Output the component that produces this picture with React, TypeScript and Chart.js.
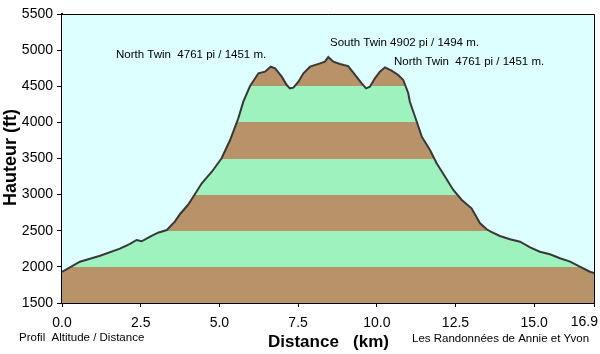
import React, { useEffect, useRef } from "react";
import { Chart, registerables } from "chart.js";

Chart.register(...registerables);

const DISTANCE_KM = [
  0.0, 0.57, 1.21, 1.84, 2.16, 2.37, 2.53, 2.8, 3.05, 3.33, 3.59, 3.75, 4.0, 4.17, 4.44, 4.76,
  5.07, 5.34, 5.6, 5.76, 5.97, 6.24, 6.45, 6.63, 6.77, 6.98, 7.14, 7.24, 7.35, 7.51, 7.67, 7.88,
  8.2, 8.35, 8.46, 8.62, 8.83, 9.09, 9.31, 9.52, 9.66, 9.78, 9.94, 10.1, 10.26, 10.47, 10.68,
  10.84, 11.0, 11.05, 11.27, 11.43, 11.69, 11.9, 12.17, 12.43, 12.7, 13.01, 13.28, 13.49, 13.62,
  13.91, 14.23, 14.55, 14.87, 15.18, 15.5, 15.82, 16.14, 16.45, 16.77, 16.9,
];
const ALTITUDE_FT = [
  1930, 2072, 2155, 2252, 2317, 2372, 2354, 2418, 2473, 2510, 2630, 2732, 2856, 2971, 3157, 3317,
  3503, 3756, 4056, 4286, 4500, 4679, 4702, 4770, 4748, 4633, 4517, 4471, 4480, 4563, 4679, 4771,
  4817, 4840, 4905, 4840, 4808, 4780, 4656, 4541, 4471, 4494, 4610, 4702, 4762, 4716, 4656,
  4587, 4403, 4286, 4009, 3802, 3618, 3434, 3248, 3064, 2926, 2811, 2603, 2520, 2487,
  2427, 2382, 2348, 2271, 2210, 2174, 2119, 2072, 2003, 1933, 1915,
];
const X_TICKS = [0, 2.5, 5, 7.5, 10, 12.5, 15, 16.9];
const Y_MIN = 1500;
const Y_MAX = 5500;
const Y_STEP = 500;
const BAND_EDGES = [1500, 2000, 2500, 3000, 3500, 4000, 4500, 5500];
const BAND_COLORS = ["#b89268", "#9ef2be", "#b89268", "#9ef2be", "#b89268", "#9ef2be", "#b89268"];
const PEAK_LABELS = [
  "North Twin  4761 pi / 1451 m.",
  "South Twin 4902 pi / 1494 m.",
  "North Twin  4761 pi / 1451 m.",
];
const Y_TITLE = "Hauteur (ft)";
const X_TITLE = "Distance   (km)";
const FOOT_LEFT = "Profil  Altitude / Distance";
const FOOT_RIGHT = "Les Randonnées de Annie et Yvon";

const FONT = "'Liberation Sans', Arial, sans-serif";
const BG = "#ddffff";
const TICK_FONT_SIZE = 14;

const fmtX = (v: number) => Number(v).toFixed(1);

const decorPlugin = {
  id: "decor",
  beforeDatasetsDraw(chart: any) {
    const { ctx, chartArea: a } = chart;
    ctx.save();
    ctx.fillStyle = BG;
    ctx.fillRect(a.left, a.top, a.right - a.left, a.bottom - a.top);
    ctx.restore();
  },
  afterDraw(chart: any) {
    const { ctx, chartArea: a } = chart;
    ctx.save();
    ctx.strokeStyle = "#000";
    ctx.lineWidth = 1;
    ctx.beginPath();
    ctx.moveTo(a.left, a.top + 0.5);
    ctx.lineTo(a.right + 0.5, a.top + 0.5);
    ctx.lineTo(a.right + 0.5, a.bottom);
    ctx.stroke();

    ctx.fillStyle = "#000";
    ctx.textBaseline = "middle";

    // last x tick label, kept inside the canvas
    const last = X_TICKS[X_TICKS.length - 1];
    ctx.textAlign = "right";
    ctx.font = `${TICK_FONT_SIZE}px ${FONT}`;
    ctx.fillText(fmtX(last), 598, 322);

    ctx.textAlign = "left";
    ctx.font = `11.5px ${FONT}`;
    ctx.fillText(PEAK_LABELS[0], 116, 55);
    ctx.fillText(PEAK_LABELS[1], 330, 43);
    ctx.fillText(PEAK_LABELS[2], 394, 62);

    ctx.font = `11.5px ${FONT}`;
    ctx.fillText(FOOT_LEFT, 19, 338);
    ctx.fillText(FOOT_RIGHT, 412, 339);

    ctx.font = `bold 17px ${FONT}`;
    ctx.fillText(X_TITLE, 268, 342);

    ctx.save();
    ctx.translate(11, 157.5);
    ctx.rotate(-Math.PI / 2);
    ctx.textAlign = "center";
    ctx.font = `bold 18px ${FONT}`;
    ctx.fillText(Y_TITLE, 0, 0);
    ctx.restore();
    ctx.restore();
  },
};

function bandFill(c: any) {
  const chart = c.chart;
  const area = chart.chartArea;
  const ys = chart.scales && chart.scales.y;
  if (!area || !ys) return BAND_COLORS[0];
  const p0 = ys.getPixelForValue(Y_MIN);
  const p1 = ys.getPixelForValue(Y_MAX);
  const g = chart.ctx.createLinearGradient(0, p0, 0, p1);
  const span = Y_MAX - Y_MIN;
  for (let i = 0; i < BAND_COLORS.length; i++) {
    const t0 = (BAND_EDGES[i] - Y_MIN) / span;
    const t1 = (BAND_EDGES[i + 1] - Y_MIN) / span;
    g.addColorStop(Math.min(1, Math.max(0, t0)), BAND_COLORS[i]);
    g.addColorStop(Math.min(1, Math.max(0, t1)), BAND_COLORS[i]);
  }
  return g;
}

export default function App() {
  const ref = useRef<HTMLCanvasElement | null>(null);
  useEffect(() => {
    if (!ref.current) return;
    const points = DISTANCE_KM.map((d, i) => ({ x: d, y: ALTITUDE_FT[i] }));
    const lastTick = X_TICKS[X_TICKS.length - 1];
    const chart = new Chart(ref.current, {
      type: "line",
      data: {
        datasets: [
          {
            data: points,
            borderColor: "#383838",
            borderWidth: 2,
            pointRadius: 0,
            tension: 0,
            fill: "start",
            backgroundColor: bandFill,
          },
        ],
      },
      options: {
        responsive: false,
        animation: false,
        events: [],
        layout: { padding: { left: 0, top: 14, right: 6, bottom: 0 } },
        plugins: { legend: { display: false }, tooltip: { enabled: false }, title: { display: false } },
        scales: {
          x: {
            type: "linear",
            min: 0,
            max: lastTick,
            afterFit: (s: any) => {
              s.height = 51;
              s.paddingLeft = 0;
              s.paddingRight = 0;
            },
            afterBuildTicks: (s: any) => {
              s.ticks = X_TICKS.map((v) => ({ value: v }));
            },
            ticks: {
              color: "#000",
              font: { family: FONT, size: TICK_FONT_SIZE },
              padding: 8,
              maxRotation: 0,
              autoSkip: false,
              callback: (v: any) => (Number(v) === lastTick ? "" : fmtX(v)),
            },
            grid: { drawOnChartArea: false, drawTicks: true, tickLength: 4, color: "#000" },
            border: { display: true, color: "#000", width: 2 },
          },
          y: {
            min: Y_MIN,
            max: Y_MAX,
            afterFit: (s: any) => {
              s.width = 62;
              s.paddingTop = 0;
              s.paddingBottom = 0;
            },
            ticks: {
              stepSize: Y_STEP,
              color: "#000",
              font: { family: FONT, size: TICK_FONT_SIZE },
              padding: 4,
              callback: (v: any) => String(v),
            },
            grid: { drawOnChartArea: false, drawTicks: true, tickLength: 5, color: "#000" },
            border: { display: true, color: "#000", width: 2 },
          },
        },
      },
      plugins: [decorPlugin],
    });
    return () => chart.destroy();
  }, []);
  return (
    <div style={{ position: "fixed", left: 0, top: 0, width: 600, height: 354, background: "#fff" }}>
      <canvas ref={ref} width={600} height={354} style={{ display: "block" }} />
    </div>
  );
}
